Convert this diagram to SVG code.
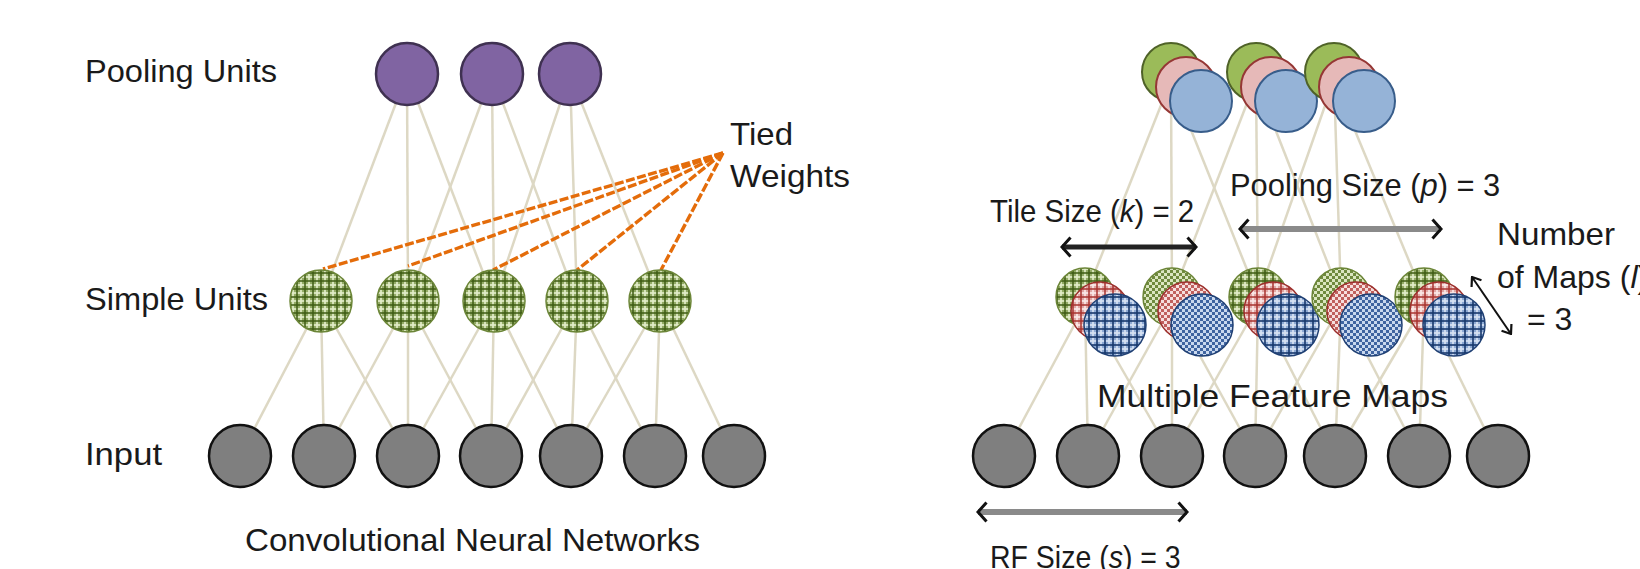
<svg xmlns="http://www.w3.org/2000/svg" width="1640" height="569" viewBox="0 0 1640 569">
  <style>
    .lbl { font-family: "Liberation Sans", Arial, sans-serif; font-size: 32px; fill: #1a1a1a; }
    .it { font-style: italic; }
    .link { stroke: #ddd8c4; stroke-width: 2.5; fill: none; }
    .tied { stroke: #e46c0a; stroke-width: 3.4; stroke-dasharray: 9 2.5; fill: none; }
    .pool { fill: #8064a2; stroke: #3f3151; stroke-width: 2.5; }
    .inp { fill: #7f7f7f; stroke: #111; stroke-width: 2.5; }
    .gS { stroke: #6b8537; stroke-width: 1.5; }
    .rS { stroke: #9c2f2c; stroke-width: 1.5; }
    .bS { stroke: #1f3f73; stroke-width: 1.5; }
    .gT { fill: #9bbb59; stroke: #4f6228; stroke-width: 2; }
    .rT { fill: #e6b9b8; stroke: #953735; stroke-width: 2; }
    .bT { fill: #95b3d7; stroke: #385d8a; stroke-width: 2; }
    .arrowBlack { stroke: #222; stroke-width: 5; fill: none; }
    .arrowGrey { stroke: #8a8a8a; stroke-width: 6; fill: none; }
    .arrowThin { stroke: #111; stroke-width: 2; fill: none; }
  </style>
  <defs>
    <!-- plaid fills -->
    <pattern id="plaidG" width="8" height="8" patternUnits="userSpaceOnUse">
      <rect width="8" height="8" fill="#93ab66"/>
      <rect x="4" width="2" height="8" fill="#e2ecc8" opacity="0.85"/>
      <rect y="4" width="8" height="2" fill="#e2ecc8" opacity="0.85"/>
      <rect x="0" width="2" height="8" fill="#3d5a12" opacity="0.75"/>
      <rect y="0" width="8" height="2" fill="#3d5a12" opacity="0.75"/>
    </pattern>
    <pattern id="checkG" width="6" height="6" patternUnits="userSpaceOnUse">
      <rect width="6" height="6" fill="#dbe6c0"/>
      <rect width="3" height="3" fill="#6f8a3e"/>
      <rect x="3" y="3" width="3" height="3" fill="#6f8a3e"/>
    </pattern>
    <pattern id="plaidR" width="8" height="8" patternUnits="userSpaceOnUse">
      <rect width="8" height="8" fill="#e0a8a6"/>
      <rect x="4" width="2" height="8" fill="#fbe8e7" opacity="0.85"/>
      <rect y="4" width="8" height="2" fill="#fbe8e7" opacity="0.85"/>
      <rect x="0" width="2" height="8" fill="#a8322f" opacity="0.75"/>
      <rect y="0" width="8" height="2" fill="#a8322f" opacity="0.75"/>
    </pattern>
    <pattern id="checkR" width="6" height="6" patternUnits="userSpaceOnUse">
      <rect width="6" height="6" fill="#f6dedd"/>
      <rect width="3" height="3" fill="#c0605d"/>
      <rect x="3" y="3" width="3" height="3" fill="#c0605d"/>
    </pattern>
    <pattern id="plaidB" width="8" height="8" patternUnits="userSpaceOnUse">
      <rect width="8" height="8" fill="#8eaad4"/>
      <rect x="4" width="2" height="8" fill="#d6e2f2" opacity="0.85"/>
      <rect y="4" width="8" height="2" fill="#d6e2f2" opacity="0.85"/>
      <rect x="0" width="2" height="8" fill="#17376b" opacity="0.8"/>
      <rect y="0" width="8" height="2" fill="#17376b" opacity="0.8"/>
    </pattern>
    <pattern id="checkB" width="6" height="6" patternUnits="userSpaceOnUse">
      <rect width="6" height="6" fill="#c9d8ee"/>
      <rect width="3" height="3" fill="#3f64a0"/>
      <rect x="3" y="3" width="3" height="3" fill="#3f64a0"/>
    </pattern>
    <!-- open chevron heads -->
    <marker id="chev" viewBox="0 0 12 22" refX="10" refY="11" markerWidth="12" markerHeight="22" markerUnits="userSpaceOnUse" orient="auto-start-reverse">
      <path d="M1.5,1.5 L10,11 L1.5,20.5" fill="none" stroke="#111" stroke-width="3"/>
    </marker>
    <marker id="chevS" viewBox="0 0 10 14" refX="9" refY="7" markerWidth="10" markerHeight="14" markerUnits="userSpaceOnUse" orient="auto-start-reverse">
      <path d="M1,1 L9,7 L1,13" fill="none" stroke="#111" stroke-width="2.2"/>
    </marker>
  </defs>

  <rect width="1640" height="569" fill="#ffffff"/>

  <!-- connectors -->
  <g id="connectors">
    <!-- left: pooling to simple -->
    <line class="link" x1="407" y1="74" x2="321" y2="301"/>
    <line class="link" x1="407" y1="74" x2="408" y2="301"/>
    <line class="link" x1="407" y1="74" x2="494" y2="301"/>
    <line class="link" x1="492" y1="74" x2="408" y2="301"/>
    <line class="link" x1="492" y1="74" x2="494" y2="301"/>
    <line class="link" x1="492" y1="74" x2="577" y2="301"/>
    <line class="link" x1="570" y1="74" x2="494" y2="301"/>
    <line class="link" x1="570" y1="74" x2="577" y2="301"/>
    <line class="link" x1="570" y1="74" x2="660" y2="301"/>
    <!-- left: simple to input -->
    <line class="link" x1="321" y1="301" x2="240" y2="456"/>
    <line class="link" x1="321" y1="301" x2="324" y2="456"/>
    <line class="link" x1="321" y1="301" x2="408" y2="456"/>
    <line class="link" x1="408" y1="301" x2="324" y2="456"/>
    <line class="link" x1="408" y1="301" x2="408" y2="456"/>
    <line class="link" x1="408" y1="301" x2="491" y2="456"/>
    <line class="link" x1="494" y1="301" x2="408" y2="456"/>
    <line class="link" x1="494" y1="301" x2="491" y2="456"/>
    <line class="link" x1="494" y1="301" x2="571" y2="456"/>
    <line class="link" x1="577" y1="301" x2="491" y2="456"/>
    <line class="link" x1="577" y1="301" x2="571" y2="456"/>
    <line class="link" x1="577" y1="301" x2="655" y2="456"/>
    <line class="link" x1="660" y1="301" x2="571" y2="456"/>
    <line class="link" x1="660" y1="301" x2="655" y2="456"/>
    <line class="link" x1="660" y1="301" x2="734" y2="456"/>
    <!-- left: tied weights -->
    <line class="tied" x1="723" y1="153" x2="323" y2="269"/>
    <line class="tied" x1="723" y1="153" x2="408" y2="266"/>
    <line class="tied" x1="723" y1="153" x2="493" y2="270"/>
    <line class="tied" x1="723" y1="153" x2="577" y2="270"/>
    <line class="tied" x1="723" y1="153" x2="661" y2="270"/>
    <!-- right: pooling to simple -->
    <line class="link" x1="1171" y1="80" x2="1085" y2="297"/>
    <line class="link" x1="1171" y1="80" x2="1172" y2="297"/>
    <line class="link" x1="1171" y1="80" x2="1258" y2="297"/>
    <line class="link" x1="1256" y1="80" x2="1172" y2="297"/>
    <line class="link" x1="1256" y1="80" x2="1258" y2="297"/>
    <line class="link" x1="1256" y1="80" x2="1341" y2="297"/>
    <line class="link" x1="1334" y1="80" x2="1258" y2="297"/>
    <line class="link" x1="1334" y1="80" x2="1341" y2="297"/>
    <line class="link" x1="1334" y1="80" x2="1424" y2="297"/>
    <!-- right: simple to input -->
    <line class="link" x1="1085" y1="305" x2="1004" y2="456"/>
    <line class="link" x1="1085" y1="305" x2="1088" y2="456"/>
    <line class="link" x1="1085" y1="305" x2="1172" y2="456"/>
    <line class="link" x1="1172" y1="305" x2="1088" y2="456"/>
    <line class="link" x1="1172" y1="305" x2="1172" y2="456"/>
    <line class="link" x1="1172" y1="305" x2="1255" y2="456"/>
    <line class="link" x1="1258" y1="305" x2="1172" y2="456"/>
    <line class="link" x1="1258" y1="305" x2="1255" y2="456"/>
    <line class="link" x1="1258" y1="305" x2="1335" y2="456"/>
    <line class="link" x1="1341" y1="305" x2="1255" y2="456"/>
    <line class="link" x1="1341" y1="305" x2="1335" y2="456"/>
    <line class="link" x1="1341" y1="305" x2="1419" y2="456"/>
    <line class="link" x1="1424" y1="305" x2="1335" y2="456"/>
    <line class="link" x1="1424" y1="305" x2="1419" y2="456"/>
    <line class="link" x1="1424" y1="305" x2="1498" y2="456"/>
  </g>

  <!-- left network -->
  <g id="left-pooling">
    <circle id="lp1" class="pool" cx="407" cy="74" r="31"/>
    <circle id="lp2" class="pool" cx="492" cy="74" r="31"/>
    <circle id="lp3" class="pool" cx="570" cy="74" r="31"/>
  </g>
  <g id="left-simple">
    <circle id="ls1" class="gS" cx="321" cy="301" r="31" fill="url(#plaidG)"/>
    <circle id="ls2" class="gS" cx="408" cy="301" r="31" fill="url(#plaidG)"/>
    <circle id="ls3" class="gS" cx="494" cy="301" r="31" fill="url(#plaidG)"/>
    <circle id="ls4" class="gS" cx="577" cy="301" r="31" fill="url(#plaidG)"/>
    <circle id="ls5" class="gS" cx="660" cy="301" r="31" fill="url(#plaidG)"/>
  </g>
  <g id="left-input">
    <circle id="li1" class="inp" cx="240" cy="456" r="31"/>
    <circle id="li2" class="inp" cx="324" cy="456" r="31"/>
    <circle id="li3" class="inp" cx="408" cy="456" r="31"/>
    <circle id="li4" class="inp" cx="491" cy="456" r="31"/>
    <circle id="li5" class="inp" cx="571" cy="456" r="31"/>
    <circle id="li6" class="inp" cx="655" cy="456" r="31"/>
    <circle id="li7" class="inp" cx="734" cy="456" r="31"/>
  </g>

  <!-- right network: stacked maps -->
  <g id="right-pooling">
    <g id="rp1">
      <circle class="gT" cx="1171" cy="72" r="29"/>
      <circle class="rT" cx="1186" cy="87" r="30"/>
      <circle class="bT" cx="1201" cy="101" r="31"/>
    </g>
    <g id="rp2">
      <circle class="gT" cx="1256" cy="72" r="29"/>
      <circle class="rT" cx="1271" cy="87" r="30"/>
      <circle class="bT" cx="1286" cy="101" r="31"/>
    </g>
    <g id="rp3">
      <circle class="gT" cx="1334" cy="72" r="29"/>
      <circle class="rT" cx="1349" cy="87" r="30"/>
      <circle class="bT" cx="1364" cy="101" r="31"/>
    </g>
  </g>
  <g id="right-simple">
    <g id="rs1">
      <circle class="gS" cx="1085" cy="297" r="29" fill="url(#plaidG)"/>
      <circle class="rS" cx="1100" cy="311" r="29" fill="url(#plaidR)"/>
      <circle class="bS" cx="1115" cy="325" r="31" fill="url(#plaidB)"/>
    </g>
    <g id="rs2">
      <circle class="gS" cx="1172" cy="297" r="29" fill="url(#checkG)"/>
      <circle class="rS" cx="1187" cy="311" r="29" fill="url(#checkR)"/>
      <circle class="bS" cx="1202" cy="325" r="31" fill="url(#checkB)"/>
    </g>
    <g id="rs3">
      <circle class="gS" cx="1258" cy="297" r="29" fill="url(#plaidG)"/>
      <circle class="rS" cx="1273" cy="311" r="29" fill="url(#plaidR)"/>
      <circle class="bS" cx="1288" cy="325" r="31" fill="url(#plaidB)"/>
    </g>
    <g id="rs4">
      <circle class="gS" cx="1341" cy="297" r="29" fill="url(#checkG)"/>
      <circle class="rS" cx="1356" cy="311" r="29" fill="url(#checkR)"/>
      <circle class="bS" cx="1371" cy="325" r="31" fill="url(#checkB)"/>
    </g>
    <g id="rs5">
      <circle class="gS" cx="1424" cy="297" r="29" fill="url(#plaidG)"/>
      <circle class="rS" cx="1439" cy="311" r="29" fill="url(#plaidR)"/>
      <circle class="bS" cx="1454" cy="325" r="31" fill="url(#plaidB)"/>
    </g>
  </g>
  <g id="right-input">
    <circle id="ri1" class="inp" cx="1004" cy="456" r="31"/>
    <circle id="ri2" class="inp" cx="1088" cy="456" r="31"/>
    <circle id="ri3" class="inp" cx="1172" cy="456" r="31"/>
    <circle id="ri4" class="inp" cx="1255" cy="456" r="31"/>
    <circle id="ri5" class="inp" cx="1335" cy="456" r="31"/>
    <circle id="ri6" class="inp" cx="1419" cy="456" r="31"/>
    <circle id="ri7" class="inp" cx="1498" cy="456" r="31"/>
  </g>

  <!-- dimension arrows -->
  <g id="dimension-arrows">
    <line class="arrowBlack" x1="1062" y1="247" x2="1196" y2="247" marker-start="url(#chev)" marker-end="url(#chev)"/>
    <line class="arrowGrey" x1="1240" y1="229" x2="1441" y2="229" marker-start="url(#chev)" marker-end="url(#chev)"/>
    <line class="arrowGrey" x1="978" y1="512" x2="1187" y2="512" marker-start="url(#chev)" marker-end="url(#chev)"/>
    <line class="arrowThin" x1="1472" y1="277" x2="1511" y2="334" marker-start="url(#chevS)" marker-end="url(#chevS)"/>
  </g>

  <!-- labels -->
  <g id="labels">
    <text class="lbl" x="85" y="82" textLength="192" lengthAdjust="spacingAndGlyphs">Pooling Units</text>
    <text class="lbl" x="730" y="145" textLength="63" lengthAdjust="spacingAndGlyphs">Tied</text>
    <text class="lbl" x="730" y="187" textLength="120" lengthAdjust="spacingAndGlyphs">Weights</text>
    <text class="lbl" x="85" y="310" textLength="183" lengthAdjust="spacingAndGlyphs">Simple Units</text>
    <text class="lbl" x="85" y="465" textLength="77" lengthAdjust="spacingAndGlyphs">Input</text>
    <text class="lbl" x="245" y="551" textLength="455" lengthAdjust="spacingAndGlyphs">Convolutional Neural Networks</text>
    <text class="lbl" transform="matrix(0.965 0 0 1 1230 196)">Pooling Size (<tspan class="it">p</tspan>) = 3</text>
    <text class="lbl" transform="matrix(0.92 0 0 1 990 222)">Tile Size (<tspan class="it">k</tspan>) = 2</text>
    <text class="lbl" x="1497" y="245" textLength="118" lengthAdjust="spacingAndGlyphs">Number</text>
    <text class="lbl" x="1497" y="288">of Maps (<tspan class="it">l</tspan>)</text>
    <text class="lbl" x="1527" y="330">= 3</text>
    <text class="lbl" x="1097" y="407" textLength="351" lengthAdjust="spacingAndGlyphs">Multiple Feature Maps</text>
    <text class="lbl" transform="matrix(0.89 0 0 1 990 568)">RF Size (<tspan class="it">s</tspan>) = 3</text>
  </g>
</svg>
